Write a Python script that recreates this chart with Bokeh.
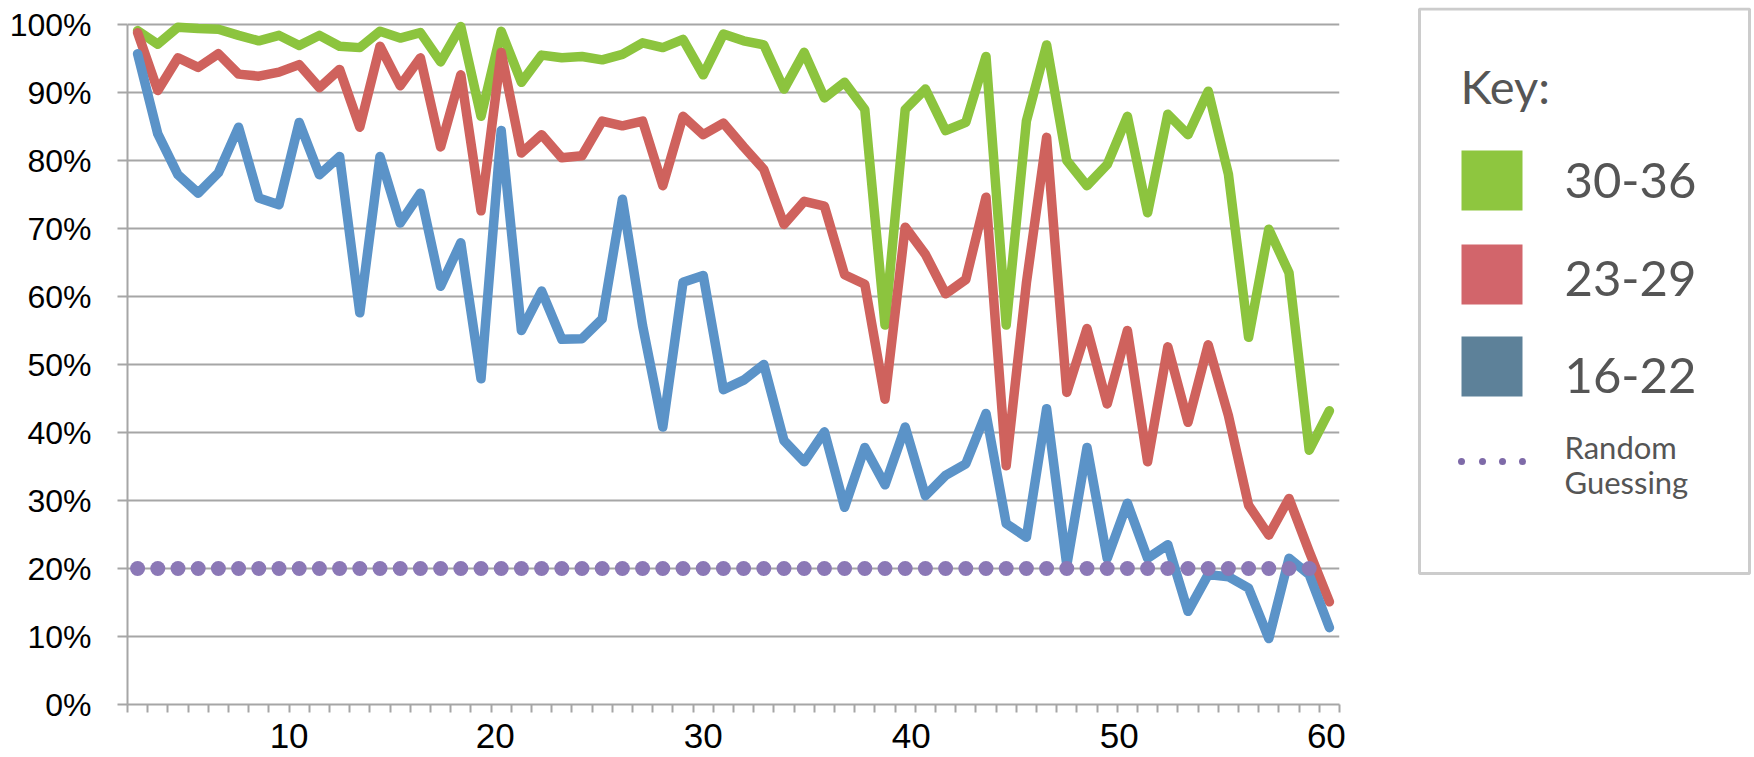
from bokeh.plotting import figure
from bokeh.models import Range1d, FixedTicker
from bokeh.layouts import row
from bokeh.embed import file_html
from bokeh.resources import INLINE
from bokeh.core.properties import value

# ---------------- data ----------------
categories = list(range(1, 61))

age_30_36 = [99.1, 97.1, 99.6, 99.4, 99.3, 98.4, 97.6, 98.4, 96.9, 98.4,
             96.8, 96.6, 99.0, 98.0, 98.8, 94.5, 99.7, 86.5, 99.0, 91.5,
             95.5, 95.1, 95.3, 94.8, 95.6, 97.3, 96.6, 97.8, 92.6, 98.6,
             97.6, 97.0, 90.5, 95.9, 89.2, 91.5, 87.5, 55.8, 87.5, 90.5,
             84.4, 85.6, 95.3, 55.8, 85.8, 97.0, 80.0, 76.3, 79.4, 86.5,
             72.3, 86.8, 83.8, 90.2, 78.0, 54.0, 69.9, 63.5, 37.4, 43.2]

age_23_29 = [98.8, 90.3, 95.1, 93.7, 95.7, 92.7, 92.4, 93.0, 94.1, 90.7,
             93.4, 84.9, 96.8, 91.0, 95.1, 82.0, 92.6, 72.6, 95.9, 81.1,
             83.8, 80.4, 80.7, 85.8, 85.1, 85.8, 76.3, 86.5, 83.8, 85.5,
             82.0, 78.7, 70.6, 74.0, 73.3, 63.2, 61.8, 44.9, 70.2, 66.2,
             60.4, 62.5, 74.6, 35.1, 62.0, 83.4, 45.9, 55.3, 44.2, 55.0,
             35.7, 52.6, 41.5, 52.9, 42.5, 29.3, 24.9, 30.3, 22.5, 15.1]

age_16_22 = [95.7, 83.9, 77.9, 75.2, 78.2, 84.9, 74.5, 73.5, 85.6, 77.9,
             80.6, 57.6, 80.6, 70.8, 75.2, 61.5, 67.9, 47.9, 84.4, 55.0,
             60.8, 53.7, 53.8, 56.7, 74.3, 55.7, 40.8, 62.1, 63.1, 46.3,
             47.7, 50.0, 38.8, 35.7, 40.1, 29.0, 37.8, 32.3, 40.8, 30.7,
             33.7, 35.4, 42.8, 26.6, 24.6, 43.5, 20.5, 37.8, 21.5, 29.6,
             21.5, 23.5, 13.7, 19.1, 18.8, 17.1, 9.7, 21.5, 19.1, 11.3]

random_categories = list(range(1, 60))
random_guessing = [20, 20, 20, 20, 20, 20, 20, 20, 20, 20,
                   20, 20, 20, 20, 20, 20, 20, 20, 20, 20,
                   20, 20, 20, 20, 20, 20, 20, 20, 20, 20,
                   20, 20, 20, 20, 20, 20, 20, 20, 20, 20,
                   20, 20, 20, 20, 20, 20, 20, 20, 20, 20,
                   20, 20, 20, 20, 20, 20, 20, 20, 20]

y_ticks = [0, 10, 20, 30, 40, 50, 60, 70, 80, 90, 100]
y_tick_labels = ["0%", "10%", "20%", "30%", "40%", "50%", "60%", "70%", "80%", "90%", "100%"]
x_tick_labels = ["10", "20", "30", "40", "50", "60"]
x_label_positions = [8.5, 18.7, 29.0, 39.3, 49.6, 59.85]

legend_labels = ["30-36", "23-29", "16-22"]
random_label = ["Random", "Guessing"]

# ---------------- styles ----------------
GREEN = "#8cc43e"
RED = "#cf625d"
BLUE = "#5b93c8"
PURPLE = "#8b78b6"
GRID = "#a6a6a6"
AXIS_FONT = "Liberation Sans"

W1, H = 1350, 757
W2 = 1754 - W1
TOP, BOTTOM = 7, 53          # borders shared by both panels (frames align in a row)
Y_TOP = 102.5                # a little head-room above 100 % so round line caps are not cut

p = figure(width=W1, height=H, x_range=Range1d(0.5, 60.5), y_range=Range1d(0, Y_TOP),
           title=None, output_backend="svg", toolbar_location=None,
           min_border_left=127, min_border_right=11,
           min_border_top=TOP, min_border_bottom=BOTTOM)
p.outline_line_color = None
p.background_fill_color = "white"
p.border_fill_color = "white"

p.xgrid.visible = False
p.ygrid.ticker = FixedTicker(ticks=y_ticks)
p.ygrid.grid_line_color = GRID
p.ygrid.grid_line_width = 2

# y axis
p.yaxis.ticker = FixedTicker(ticks=y_ticks)
p.yaxis.bounds = (0, 100)
p.yaxis.major_label_overrides = dict(zip(y_ticks, y_tick_labels))
p.yaxis.axis_line_color = GRID
p.yaxis.axis_line_width = 2
p.yaxis.major_tick_line_color = GRID
p.yaxis.major_tick_line_width = 2
p.yaxis.major_tick_out = 10
p.yaxis.major_tick_in = 0
p.yaxis.minor_tick_line_color = None
p.yaxis.major_label_standoff = 26
p.yaxis.major_label_text_font = AXIS_FONT
p.yaxis.major_label_text_font_size = "32px"
p.yaxis.major_label_text_color = "black"

# x axis
boundaries = [i + 0.5 for i in range(0, 61)]
p.xaxis.ticker = FixedTicker(ticks=x_label_positions, minor_ticks=boundaries)
p.xaxis.major_label_overrides = dict(zip(x_label_positions, x_tick_labels))
p.xaxis.axis_line_color = GRID
p.xaxis.axis_line_width = 2
p.xaxis.major_tick_line_color = None
p.xaxis.major_tick_out = 0
p.xaxis.major_tick_in = 0
p.xaxis.minor_tick_line_color = GRID
p.xaxis.minor_tick_line_width = 2
p.xaxis.minor_tick_out = 8
p.xaxis.minor_tick_in = 0
p.xaxis.major_label_standoff = 11
p.xaxis.major_label_text_font = AXIS_FONT
p.xaxis.major_label_text_font_size = "35px"
p.xaxis.major_label_text_color = "black"

# series
for vals, col in [(age_30_36, GREEN), (age_23_29, RED), (age_16_22, BLUE)]:
    p.line(categories, vals, line_color=col, line_width=9.5,
           line_join="round", line_cap="round")
p.scatter(random_categories, random_guessing, size=15, fill_color=PURPLE,
          line_color=None)

# ---------------- legend panel (pixel-like coordinates, y downwards) ----------------
lg = figure(width=W2, height=H, x_range=Range1d(0, W2), y_range=Range1d(H - BOTTOM, TOP),
            title=None, output_backend="svg", toolbar_location=None,
            min_border_left=0, min_border_right=0,
            min_border_top=TOP, min_border_bottom=BOTTOM,
            x_axis_type=None, y_axis_type=None)
lg.grid.visible = False
lg.outline_line_color = None
lg.background_fill_color = "white"
lg.border_fill_color = "white"

TXT = "#555555"
LFONT = value("Lato")

lg.quad(left=[69], right=[399], top=[8.5], bottom=[573], fill_color=None,
        line_color="#cccccc", line_width=3)
lg.text(x=[110], y=[85], text=["Key:"], text_font=LFONT, text_font_size="47px",
        text_color=TXT, text_baseline="middle", text_align="left")

sw_colors = ["#8ec63f", "#d2656b", "#5d8199"]
square_y = [180, 274, 366]
text_y = [180, 278, 375]
lg.rect(x=[141.5] * 3, y=square_y, width=61, height=60, fill_color=sw_colors, line_color=None)
lg.text(x=[214] * 3, y=text_y, text=legend_labels, text_font=LFONT,
        text_font_size="49px", text_color=TXT, text_baseline="middle", text_align="left")

lg.scatter(x=[111, 132, 152, 172], y=[461] * 4, size=7, fill_color="#7e6aa8", line_color=None)
lg.text(x=[214, 214], y=[446, 481], text=random_label, text_font=LFONT,
        text_font_size="31px", text_color=TXT, text_baseline="middle", text_align="left")

layout = row(p, lg)
open("out.html", "w").write(file_html(layout, INLINE))
